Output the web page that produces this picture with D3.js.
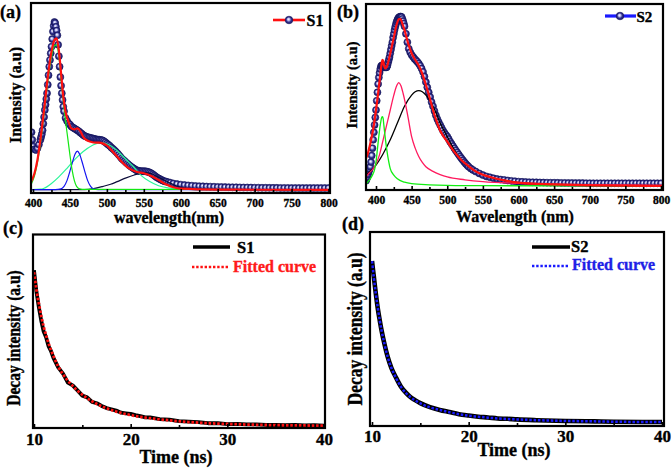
<!DOCTYPE html>
<html><head><meta charset="utf-8">
<script src="https://cdn.jsdelivr.net/npm/d3@7"></script>
<style>
body{margin:0;background:#fff}
svg{display:block}
text{font-family:'Liberation Serif','Times New Roman',serif;font-weight:bold;fill:#000;stroke-width:0.35px}
</style>
</head><body><script>
// ---------------- DATA ----------------
// Panel (a): PL spectrum S1 (wavelength nm, intensity a.u. 0-100)
const a_S1 = [[398,32],[399,28],[400,24.5],[402,23],[404,22.6],[406,23.5],[408,25.5],[410,28],[411,29.5],[412,31],[413,33],[414,36.5],[415,40],[416,43.7],[417,46.5],[418,49.5],[419,52.5],[420,57],[421,62],[422,66.5],[423,70],[424,73.5],[425,77],[426,81],[427,85],[428,88],[429,90],[430,89.5],[431,87.5],[432,85.5],[433,83],[434,78],[435,72],[436,66.5],[437,61],[438,56.5],[439,52.5],[440,49],[441,45.4],[442,43],[444,39.5],[446,38],[448,36.7],[450,36],[452,35],[454,34.5],[456,34],[458,33.5],[460,33],[462,32.5],[464,31.8],[466,31.2],[468,30.5],[470,30],[472,29.7],[474,29.4],[476,29.2],[478,29],[480,28.8],[482,28.6],[484,28.4],[486,28.2],[488,28.1],[490,28],[492,27.9],[494,27.7],[496,27.3],[498,26.7],[500,26],[502,25.4],[504,24.8],[506,24],[508,23.3],[510,22.6],[512,21.8],[514,21],[516,20.1],[518,19.2],[520,18.2],[522,17.5],[524,16.8],[526,16.1],[528,15.4],[530,14.7],[532,14.1],[534,13.5],[536,13],[538,12.5],[540,12],[542,11.8],[544,11.6],[546,11.5],[548,11.5],[550,11.5],[552,11.4],[554,11.3],[556,11.1],[558,10.8],[560,10.4],[562,9.9],[564,9.3],[566,8.7],[568,8.1],[570,7.7],[572,7.3],[574,6.9],[576,6.5],[578,6.2],[580,6],[583,5.7],[586,5.4],[590,5],[595,4.7],[600,4.4],[605,4.2],[610,4],[615,3.85],[620,3.7],[625,3.6],[630,3.5],[635,3.4],[640,3.35],[645,3.3],[650,3.2],[655,3.15],[660,3.1],[665,3.05],[670,3],[675,3],[680,2.95],[685,2.9],[690,2.9],[695,2.85],[700,2.8],[705,2.8],[710,2.75],[715,2.75],[720,2.7],[725,2.7],[730,2.7],[735,2.65],[740,2.65],[745,2.65],[750,2.6],[755,2.6],[760,2.6],[765,2.6],[770,2.6],[775,2.6],[780,2.6],[785,2.6],[790,2.6],[795,2.6],[800,2.6]];
const a_fit = [[397.5,6],[402,10.4],[406,17.4],[410,28],[415,43.7],[420,61],[425,74.4],[429,80.5],[432,81.4],[435,75],[438,63],[441,50.7],[444,42.8],[448,37.5],[452,34],[456,33.5],[460,34],[464,32.6],[468,29.6],[472,28],[478,27],[485,26.5],[490,26.5],[495,26],[500,25],[505,23],[510,20.9],[520,16.5],[530,13],[540,11.2],[550,10.4],[560,9],[570,6.8],[580,4.6],[590,3],[600,2.3],[650,1.8],[802,1.6]];
const a_green = [[397.5,4.5],[402,9],[406,16],[410,26],[415,41.5],[420,58.5],[425,71.5],[429,77.5],[432,78],[435,72],[438,60],[441,48],[444,38],[447,29],[450,20],[453,12],[456,6.5],[459,3.5],[463,2.2],[470,1.9],[802,1.8]];
const a_blue = [[397.5,1.8],[430,1.8],[438,2.2],[442,3.5],[446,6.5],[450,11.5],[454,17],[457,20.5],[460,22],[463,20.5],[466,17],[470,11.5],[474,6.5],[478,3.5],[482,2.2],[488,1.8],[802,1.8]];
const a_mint = [[397.5,1.8],[410,2],[415,2.5],[425,5],[435,8.5],[446,13],[457,17.8],[468,21.8],[480,25],[491,26.5],[502,25.5],[513,22.6],[525,18],[536,13.8],[547,9],[558,6],[570,3.8],[585,2.6],[600,2],[620,1.8],[802,1.8]];
const a_dark = [[397.5,1.8],[470,1.8],[482,2.3],[495,3.5],[505,4.6],[514,6],[525,7.8],[537,9.5],[550,10.7],[560,10.2],[568,8.6],[580,6.3],[591,4.2],[600,3],[609,2.2],[620,1.8],[802,1.8]];

// Panel (b): PL spectrum S2
const b_S2 = [[386,5],[387,6],[388,7],[389,8.5],[390,10],[391,11.2],[392,12.5],[393,15],[394,18.5],[395,22.5],[396,27],[397,31],[398,35],[399,39],[400,43],[401,48],[402,52.5],[403,57],[404,60.5],[405,63],[406,65],[407,66.5],[408,67],[409,67],[410,67],[411,66.5],[412,66],[413,66],[414,66],[415,66],[416,67],[417,68.5],[418,70],[419,71.5],[420,73.5],[421,75.5],[422,77.5],[423,79.5],[424,82],[425,84],[426,86],[427,87.7],[428,89.2],[429,90.5],[430,91.4],[431,92.2],[432,92.8],[433,93],[434,93.2],[435,93.2],[436,93],[437,92],[438,90.8],[439,89.5],[440,88],[442,84],[444,79.5],[446,76],[448,74],[450,72.6],[452,71.6],[454,70.6],[456,69.8],[458,69],[460,68],[462,66.8],[464,65.3],[466,63.5],[468,61],[470,58],[472,55.2],[474,52.5],[476,50],[478,47.3],[480,45],[482,42.5],[484,40.2],[486,38.2],[488,36.5],[490,35],[492,33.5],[494,32],[496,30.8],[498,29.7],[500,28.7],[502,27.4],[504,26],[506,24.8],[508,23.6],[510,22.4],[512,21.3],[514,20.2],[516,19.1],[518,18],[520,17],[522,16],[524,15],[526,14.1],[528,13.3],[530,12.5],[533,11.6],[536,10.8],[540,9.9],[545,8.9],[550,8],[555,7.3],[560,6.8],[565,6.3],[570,5.9],[575,5.6],[580,5.4],[585,5.1],[590,4.9],[595,4.7],[600,4.5],[605,4.4],[610,4.3],[615,4.2],[620,4.15],[625,4.1],[630,4.05],[635,4],[640,3.95],[645,3.9],[650,3.9],[655,3.85],[660,3.8],[665,3.8],[670,3.75],[675,3.75],[680,3.7],[685,3.7],[690,3.7],[695,3.65],[700,3.65],[705,3.6],[710,3.6],[715,3.6],[720,3.6],[725,3.6],[730,3.6],[735,3.6],[740,3.6],[745,3.6],[750,3.6],[755,3.6],[760,3.6],[765,3.6],[770,3.6],[775,3.6],[780,3.6],[785,3.6],[790,3.6],[795,3.6],[800,3.6]];
const b_fit = [[386,17],[388,19],[392,25],[396,32.5],[400,43],[403,52],[406,62],[408,68],[409,70],[410,69.5],[411,67.5],[413,65.4],[415,66],[418,70],[421,75],[425,82],[429,89],[432,91.8],[434,92],[437,89.5],[440,86],[445,79],[450,73.5],[455,70],[460,67],[465,62.5],[470,56.5],[475,50],[480,43],[485,37],[490,32],[495,28.7],[500,26],[510,20.5],[520,16],[530,12.8],[540,10],[550,8.2],[560,7],[580,5.2],[600,4],[650,3],[700,2.5],[750,2.3],[803,2.2]];
const b_green = [[386,3],[390,5],[395,8],[398,11],[400,15],[402,22],[404,29],[406,35],[408,39],[409,39.4],[410,38.5],[411,35],[413,28],[415,22],[418,15],[420,11.5],[425,8],[430,6],[440,4.2],[450,3.4],[475,2.8],[500,2.5],[550,2.3],[803,2.2]];
const b_pink = [[386,7],[390,9],[395,11],[400,14],[405,19],[410,27],[415,35],[420,43],[425,51],[429,56],[432,57.7],[435,56],[438,52],[441,47],[445,39],[450,28.7],[455,22.5],[460,18],[465,14.8],[470,12.5],[480,10],[490,8.3],[500,7],[525,5.5],[550,4.5],[600,3.6],[700,2.9],[803,2.5]];
const b_dark = [[386,8],[390,9.5],[395,11.2],[400,13.4],[410,19.5],[420,27],[430,36],[440,45],[450,51],[455,52.8],[460,53.4],[465,52.8],[470,51],[475,48.5],[480,45],[485,40.8],[490,36],[495,32.3],[500,28.7],[505,25],[510,21.5],[520,16],[530,12.5],[540,10],[550,8.2],[560,6.8],[580,5.2],[600,4],[650,3],[700,2.5],[803,2.2]];

// Panel (c): decay S1 (time ns, intensity)
const c_S1 = [[10,81],[10.25,70],[10.5,62],[10.75,55],[11,49.5],[11.25,46.5],[11.5,42],[11.75,39.5],[12,36],[12.5,31],[13,27.8],[13.5,23.2],[14,21.8],[14.5,19.2],[15,16.5],[15.5,15.6],[16,13.3],[16.5,12.6],[17,11.2],[17.5,10.1],[18,9.5],[18.5,8.8],[19,7.7],[19.5,7.4],[20,7.1],[20.5,6.5],[21,6],[21.5,5.3],[22,5.3],[23,4.4],[24,4.2],[25,3.4],[26,3.1],[27,2.9],[28,2.3],[29,2.4],[30,1.8],[31,2],[32,1.7],[33,1.7],[34,1.4],[35,1.5],[36,1.3],[37,1.4],[38,1.2],[39,1.3],[40,1.1]];
const c_fit = [[10,80],[10.25,71],[10.5,64],[10.75,57.5],[11,52],[11.25,47.5],[11.5,43.5],[11.75,40],[12,37],[12.5,31.5],[13,27.5],[13.5,24.2],[14,21.5],[14.5,19],[15,17],[15.5,15.2],[16,13.6],[16.5,12.2],[17,11],[17.5,10],[18,9.1],[18.5,8.3],[19,7.6],[19.5,7],[20,6.5],[20.5,6],[21,5.6],[21.5,5.2],[22,4.9],[23,4.3],[24,3.8],[25,3.3],[26,2.9],[27,2.6],[28,2.3],[29,2.1],[30,1.9],[31,1.8],[32,1.6],[33,1.5],[34,1.4],[35,1.3],[36,1.25],[37,1.2],[38,1.15],[39,1.1],[40,1.1]];

// Panel (d): decay S2
const d_S2 = [[10,85],[10.2,76.5],[10.4,68],[10.6,60.5],[10.8,54.5],[11,49],[11.3,42],[11.6,36],[12,30],[12.5,24.8],[13,20.2],[13.5,17.2],[14,14.8],[14.5,13.2],[15,11.8],[16,9.7],[17,8.3],[18,7.2],[19,6.1],[20,5.4],[21,4.8],[22,4.4],[23,3.9],[24,3.7],[25,3.4],[27,3],[30,2.6],[33,2.4],[35,2.2],[38,2.1],[40,2.1]];
const d_fit = [[10,85],[10.2,76],[10.4,68],[10.6,61],[10.8,54.5],[11,49],[11.3,42],[11.6,36],[12,30],[12.5,24.6],[13,20.2],[13.5,17],[14,14.8],[14.5,13.1],[15,11.7],[16,9.6],[17,8.3],[18,7.1],[19,6.1],[20,5.3],[21,4.8],[22,4.3],[23,3.9],[24,3.6],[25,3.4],[27,3],[30,2.6],[33,2.4],[35,2.2],[38,2.1],[40,2.1]];

const wlTicks = [400,450,500,550,600,650,700,750,800];
const wlMinor = [425,475,525,575,625,675,725,775];
const tTicks = [10,20,30,40];
const tMinor = [15,25,35];

// ---------------- DRAW ----------------
const svg = d3.select('body').append('svg').attr('width',672).attr('height',468);
const defs = svg.append('defs');
const g = defs.append('radialGradient').attr('id','ball').attr('cx','50%').attr('cy','50%').attr('r','55%').attr('fx','42%').attr('fy','38%');
g.append('stop').attr('offset','0%').attr('stop-color','#ffffff');
g.append('stop').attr('offset','30%').attr('stop-color','#b8b8ea');
g.append('stop').attr('offset','60%').attr('stop-color','#33338f');
g.append('stop').attr('offset','100%').attr('stop-color','#12125e');

function makePanel(id, box, x, y) {
  defs.append('clipPath').attr('id','clip'+id).append('rect')
    .attr('x',box[0]).attr('y',box[1]).attr('width',box[2]-box[0]).attr('height',box[3]-box[1]);
  const root = svg.append('g');
  const plot = root.append('g').attr('clip-path','url(#clip'+id+')');
  return {root, plot, box, x, y};
}
function drawLine(p, data, color, width, curve, dash) {
  const l = d3.line().x(d=>p.x(d[0])).y(d=>p.y(d[1])).curve(curve||d3.curveMonotoneX);
  const path = p.plot.append('path').datum(data).attr('d',l).attr('fill','none')
    .attr('stroke',color).attr('stroke-width',width).attr('stroke-linejoin','round');
  if (dash) path.attr('stroke-dasharray',dash);
  return path;
}
function drawDots(p, data, r) {
  p.plot.append('g').selectAll('circle').data(data).join('circle')
    .attr('cx',d=>p.x(d[0])).attr('cy',d=>p.y(d[1])).attr('r',r)
    .attr('fill','url(#ball)').attr('stroke','#14145c').attr('stroke-width',0.6);
}
function frame(p, ticks, minor, fs, pad, majLen, minLen) {
  const b = p.box;
  const axis = d3.axisBottom(p.x).tickValues(ticks).tickSizeInner(-majLen).tickSizeOuter(0).tickPadding(pad);
  const ax = p.root.append('g').attr('transform',`translate(0,${b[3]})`).call(axis);
  ax.select('.domain').remove();
  ax.selectAll('line').attr('stroke','#000').attr('stroke-width',1.6);
  ax.selectAll('text').attr('font-size',fs).attr('font-family',"'Liberation Serif',serif").attr('font-weight','bold').attr('fill','#000').attr('stroke','#000').attr('stroke-width',0.3);
  const ax2 = p.root.append('g').attr('transform',`translate(0,${b[3]})`)
    .call(d3.axisBottom(p.x).tickValues(minor).tickSizeInner(-minLen).tickSizeOuter(0).tickFormat(''));
  ax2.select('.domain').remove();
  ax2.selectAll('line').attr('stroke','#000').attr('stroke-width',1.6);
  p.root.append('rect').attr('x',b[0]).attr('y',b[1]).attr('width',b[2]-b[0]).attr('height',b[3]-b[1])
    .attr('fill','none').attr('stroke','#000').attr('stroke-width',2.2);
}
function txt(t, x, y, fs, opts={}) {
  const c = opts.fill || '#000';
  const e = svg.append('text').attr('x',x).attr('y',y).attr('font-size',fs).text(t)
    .style('fill',c).style('stroke',c);
  if (opts.anchor) e.attr('text-anchor',opts.anchor);
  return e;
}
function vtxt(t, x, y, fs, sy) {
  svg.append('text').attr('transform',`translate(${x},${y}) rotate(-90) scale(1,${sy||1})`)
    .attr('text-anchor','middle').attr('font-size',fs).style('stroke','#000').text(t);
}

// ----- Panel (a)
const pa = makePanel('a',[31,3,330,193], d3.scaleLinear().domain([400,800]).range([33,328.5]), d3.scaleLinear().domain([0,100]).range([193,3]));
drawDots(pa, a_S1, 3.5);
drawLine(pa, a_dark, '#0c0c3a', 1.2);
drawLine(pa, a_mint, '#2cf59a', 1.2);
drawLine(pa, a_blue, '#1414f0', 1.2);
drawLine(pa, a_green, '#12e812', 1.2);
drawLine(pa, a_fit, '#ff1010', 2.2);
frame(pa, wlTicks, wlMinor, 11.5, 6, 4, 3);
// legend a
svg.append('line').attr('x1',273).attr('x2',305).attr('y1',20).attr('y2',20).attr('stroke','#ff1010').attr('stroke-width',2.6);
svg.append('circle').attr('cx',289).attr('cy',20).attr('r',3.8).attr('fill','url(#ball)').attr('stroke','#14145c').attr('stroke-width',0.6);
txt('S1',306.5,26,16);
txt('(a)',0,18,18);
txt('wavelength(nm)',169,223,16,{anchor:'middle'});
vtxt('Intensity (a.u)',21,95,16);

// ----- Panel (b)
const pb = makePanel('b',[366,4,663,190], d3.scaleLinear().domain([400,800]).range([376,661]), d3.scaleLinear().domain([0,100]).range([190,4]));
drawDots(pb, b_S2, 3.5);
drawLine(pb, b_dark, '#000000', 1.3);
drawLine(pb, b_pink, '#ff1a5e', 1.3);
drawLine(pb, b_green, '#12ee12', 1.3);
drawLine(pb, b_fit, '#ff1010', 2.2);
frame(pb, wlTicks, wlMinor, 11.5, 6, 4, 3);
svg.append('line').attr('x1',605).attr('x2',636).attr('y1',16).attr('y2',16).attr('stroke','#1a1aff').attr('stroke-width',3.2);
svg.append('circle').attr('cx',620).attr('cy',16).attr('r',3.8).attr('fill','url(#ball)').attr('stroke','#14145c').attr('stroke-width',0.6);
txt('S2',636.5,21.5,15);
txt('(b)',337,18,18);
txt('Wavelength (nm)',515,222,16,{anchor:'middle'});
vtxt('Intensity (a.u)',357,85,14.5);

// ----- Panel (c)
const pc = makePanel('c',[33,234.5,325,428], d3.scaleLinear().domain([10,40]).range([34,324]), d3.scaleLinear().domain([0,100]).range([427.7,233.3]));
drawLine(pc, c_S1, '#000', 3.8, d3.curveLinear);
drawLine(pc, c_fit, '#ff1010', 2.8, d3.curveMonotoneX, '2.5 1.8');
frame(pc, tTicks, tMinor, 17, 5, 4, 3);
svg.append('line').attr('x1',193).attr('x2',230).attr('y1',247).attr('y2',247).attr('stroke','#000').attr('stroke-width',3.6);
txt('S1',237,253,16.5);
svg.append('line').attr('x1',192).attr('x2',228).attr('y1',267).attr('y2',267).attr('stroke','#ff1010').attr('stroke-width',2.6).attr('stroke-dasharray','2.4 1.8');
txt('Fitted curve',233,272,16,{fill:'#ff1a1a'});
txt('(c)',3,234,18);
txt('Time (ns)',176,463,18,{anchor:'middle'});
vtxt('Decay intensity (a.u)',20,338,15.5,1.2);

// ----- Panel (d)
const pd = makePanel('d',[370,232,664,426], d3.scaleLinear().domain([10,40]).range([372,662]), d3.scaleLinear().domain([0,100]).range([426,232]));
drawLine(pd, d_S2, '#000', 4.6, d3.curveMonotoneX);
drawLine(pd, d_fit, '#1a1aff', 2.5, d3.curveMonotoneX, '2.5 1.8');
frame(pd, tTicks, tMinor, 17, 4, 4, 3);
svg.append('line').attr('x1',532).attr('x2',570).attr('y1',247).attr('y2',247).attr('stroke','#000').attr('stroke-width',3.6);
txt('S2',571,252,16.5);
svg.append('line').attr('x1',532).attr('x2',568).attr('y1',266).attr('y2',266).attr('stroke','#1a1aff').attr('stroke-width',2.6).attr('stroke-dasharray','2.4 1.8');
txt('Fitted curve',572,270,16,{fill:'#1f1fe6'});
txt('(d)',342,230,18);
txt('Time (ns)',514,456,18,{anchor:'middle'});
vtxt('Decay intensity (a.u)',362,329,17.5,1.15);
</script></body></html>
